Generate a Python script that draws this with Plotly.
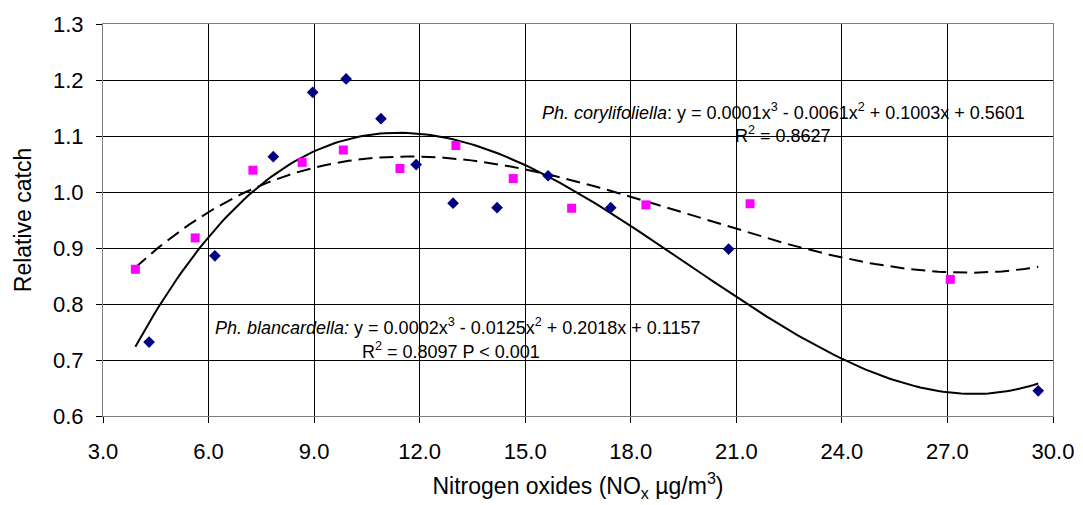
import numpy as np
import plotly.graph_objects as go

# Ph. blancardella (blue diamonds)
blan_x = [4.31, 6.18, 7.84, 8.96, 9.91, 10.90, 11.90, 12.95, 14.20, 15.65, 17.43, 20.78, 29.58]
blan_y = [0.732, 0.886, 1.063, 1.178, 1.202, 1.131, 1.049, 0.980, 0.972, 1.029, 0.972, 0.898, 0.645]
# Ph. corylifoliella (magenta squares)
cory_x = [3.92, 5.62, 7.26, 8.66, 9.83, 11.44, 13.03, 14.66, 16.32, 18.43, 21.39, 27.08]
cory_y = [0.862, 0.918, 1.039, 1.053, 1.075, 1.042, 1.083, 1.024, 0.971, 0.977, 0.979, 0.844]

x_ticks = [3.0, 6.0, 9.0, 12.0, 15.0, 18.0, 21.0, 24.0, 27.0, 30.0]
y_ticks = [0.6, 0.7, 0.8, 0.9, 1.0, 1.1, 1.2, 1.3]

cory_eq = "<i>Ph. corylifoliella</i>: y = 0.0001x<sup>3</sup> - 0.0061x<sup>2</sup> + 0.1003x + 0.5601"
cory_r2 = "R<sup>2</sup> = 0.8627"
blan_eq = "<i>Ph. blancardella:</i> y = 0.0002x<sup>3</sup> - 0.0125x<sup>2</sup> + 0.2018x + 0.1157"
blan_r2 = "R<sup>2</sup> = 0.8097 P &lt; 0.001"

# cubic trendlines fitted to the read data (as the spreadsheet trendline does)
xmin = min(min(blan_x), min(cory_x))
xmax = max(max(blan_x), max(cory_x))
xs = np.linspace(xmin, xmax, 200)
pb = np.polyfit(blan_x, blan_y, 3)
pc = np.polyfit(cory_x, cory_y, 3)

FONT = "Liberation Sans, Arial, sans-serif"

fig = go.Figure()
fig.add_trace(go.Scatter(x=xs, y=np.polyval(pc, xs), mode="lines",
                         line=dict(color="black", width=2, dash="14px,7px"),
                         showlegend=False, hoverinfo="skip"))
fig.add_trace(go.Scatter(x=xs, y=np.polyval(pb, xs), mode="lines",
                         line=dict(color="black", width=2),
                         showlegend=False, hoverinfo="skip"))
fig.add_trace(go.Scatter(x=blan_x, y=blan_y, mode="markers", name="Ph. blancardella",
                         marker=dict(symbol="diamond", size=9, color="#000080"),
                         showlegend=False))
fig.add_trace(go.Scatter(x=cory_x, y=cory_y, mode="markers", name="Ph. corylifoliella",
                         marker=dict(symbol="square", size=9, color="#FF00FF"),
                         showlegend=False))

ann_font = dict(family=FONT, size=18, color="black")
fig.add_annotation(x=22.33, y=1.1440, text=cory_eq, showarrow=False, font=ann_font)
fig.add_annotation(x=22.33, y=1.1030, text=cory_r2, showarrow=False, font=ann_font)
fig.add_annotation(x=13.09, y=0.7590, text=blan_eq, showarrow=False, font=ann_font)
fig.add_annotation(x=12.89, y=0.7170, text=blan_r2, showarrow=False, font=ann_font)

fig.update_layout(
    width=1075, height=497,
    margin=dict(l=95, r=30, t=16, b=89),
    paper_bgcolor="white", plot_bgcolor="white",
    font=dict(family=FONT, size=22, color="black"),
)
fig.update_xaxes(range=[3, 30], tickvals=x_ticks, ticktext=[f"{v:.1f}" for v in x_ticks],
                 tickfont=dict(size=22), automargin=False, ticklabelstandoff=10,
                 showgrid=True, gridcolor="black", gridwidth=1,
                 showline=True, linecolor="#808080", linewidth=1, mirror=True,
                 ticks="outside", ticklen=6, tickcolor="black",
                 zeroline=False,
                 title=dict(text="Nitrogen oxides (NO<sub>x</sub> µg/m<sup>3</sup>)",
                            font=dict(size=23), standoff=14))
fig.update_yaxes(range=[0.6, 1.3], tickvals=y_ticks, ticktext=[f"{v:.1f}" for v in y_ticks],
                 tickfont=dict(size=22), automargin=False, ticklabelstandoff=8,
                 showgrid=True, gridcolor="black", gridwidth=1,
                 showline=True, linecolor="#808080", linewidth=1, mirror=True,
                 ticks="outside", ticklen=6, tickcolor="black",
                 zeroline=False,
                 title=dict(text="Relative catch", font=dict(size=23), standoff=14))

fig.write_html("out.html")
